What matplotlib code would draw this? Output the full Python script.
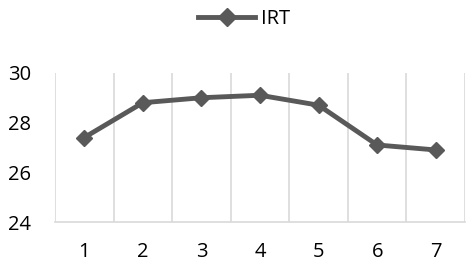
import matplotlib.pyplot as plt
import numpy as np

# data
categories = [1, 2, 3, 4, 5, 6, 7]
irt = [27.4, 28.8, 29.0, 29.1, 28.7, 27.1, 26.9]

plt.rcParams['font.family'] = ['Open Sans', 'DejaVu Sans']

fig = plt.figure(figsize=(4.74, 2.65), dpi=100)
ax = fig.add_axes([0.116, 0.162, 0.865, 0.563])

line, = ax.plot(categories, irt, color='#595959', linewidth=3.5,
                marker='D', markersize=8, label='IRT', zorder=3)

ax.set_xlim(0.5, 7.5)
ax.set_ylim(24, 30)
ax.set_yticks([24, 26, 28, 30])
ax.set_xticks(categories)
ax.set_xticks(np.arange(0.5, 8, 1), minor=True)

# vertical grid between categories, like Excel
ax.grid(True, which='minor', axis='x', color='#d9d9d9', linewidth=1.2)
ax.grid(False, which='major')
ax.tick_params(which='both', length=0)
ax.tick_params(axis='y', labelsize=14.5, colors='black', pad=17)
ax.tick_params(axis='x', labelsize=14.5, colors='black', pad=14)

for side in ['top', 'left', 'right']:
    ax.spines[side].set_visible(False)
ax.spines['bottom'].set_color('#d9d9d9')
ax.spines['bottom'].set_linewidth(1.2)

fig.legend(handles=[line], loc='center', bbox_to_anchor=(0.515, 0.93),
           frameon=False, fontsize=14.5, handlelength=2.8, handletextpad=0.3,
           markerscale=1.1)

fig.savefig('out.png', dpi=100)
